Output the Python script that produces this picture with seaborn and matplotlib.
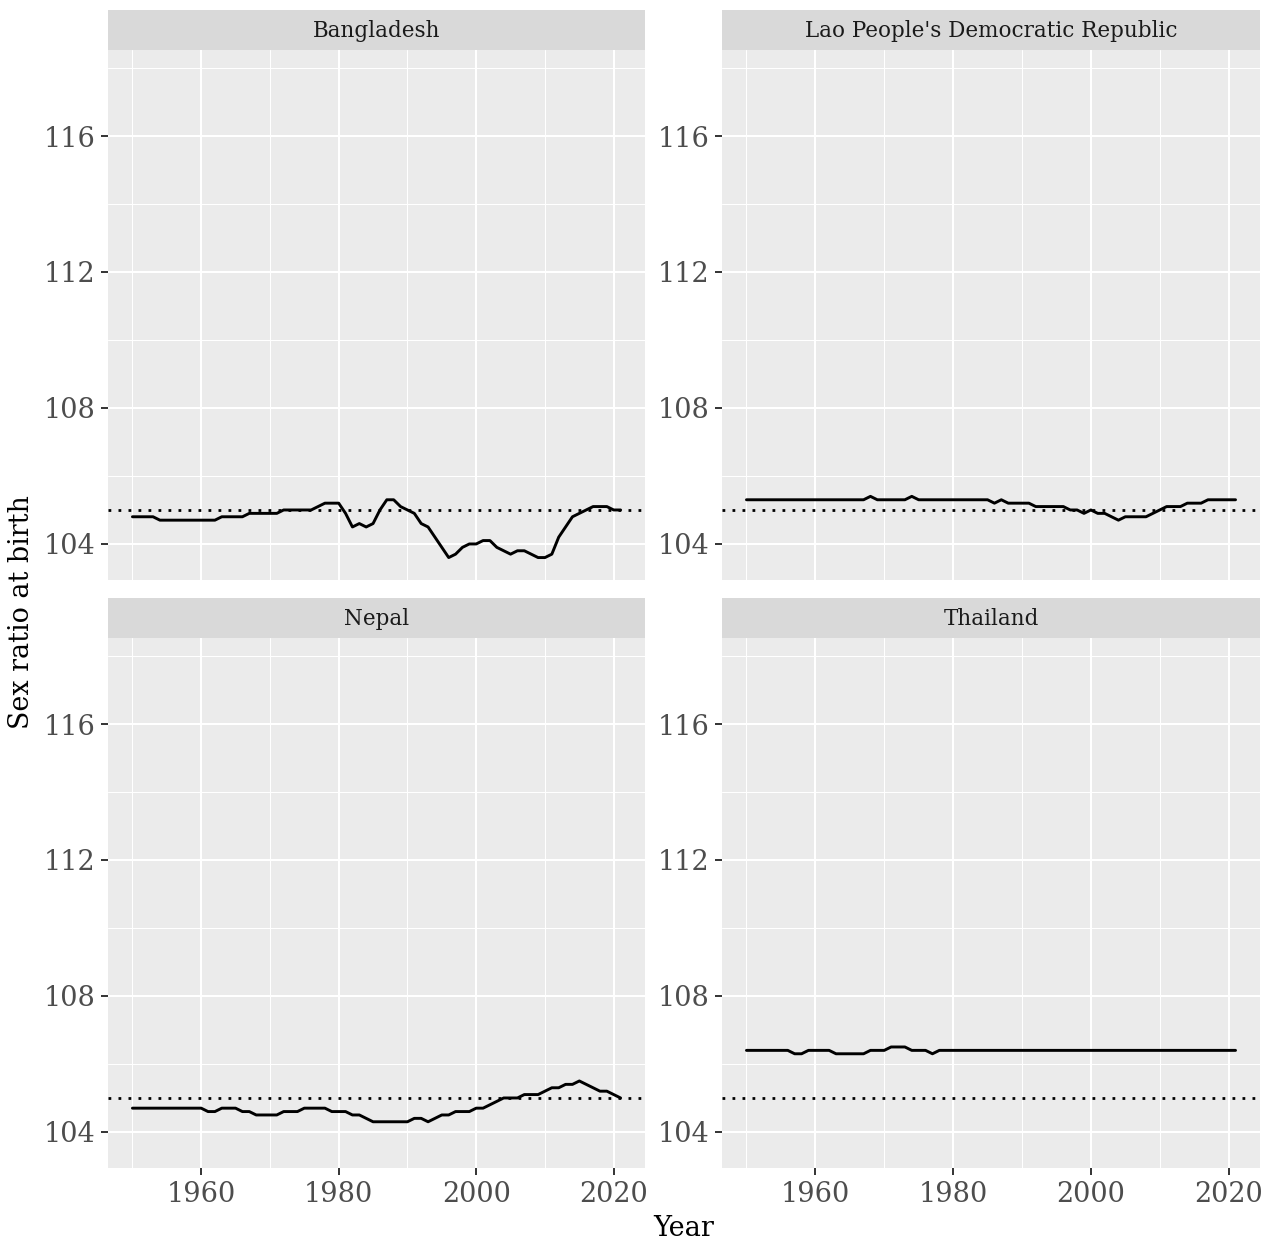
import numpy as np
import pandas as pd
import matplotlib
matplotlib.use("Agg")
import matplotlib.pyplot as plt
import seaborn as sns
from matplotlib.ticker import FixedLocator

# ---------------- data ----------------
years = list(range(1950, 2022))

countries = ["Bangladesh", "Lao People's Democratic Republic", "Nepal", "Thailand"]

bangladesh = ([104.8] * 4 + [104.7] * 9 + [104.8] * 4 + [104.9] * 5 + [105.0] * 5 +
              [105.1] + [105.2] * 3 +
              [104.9, 104.5, 104.6, 104.5, 104.6, 105.0, 105.3, 105.3, 105.1, 105.0,
               104.9, 104.6, 104.5, 104.2, 103.9, 103.6, 103.7, 103.9, 104.0, 104.0,
               104.1, 104.1, 103.9, 103.8, 103.7, 103.8, 103.8, 103.7, 103.6, 103.6,
               103.7, 104.2, 104.5, 104.8, 104.9, 105.0, 105.1, 105.1, 105.1, 105.0,
               105.0])

lao = ([105.3] * 18 + [105.4] + [105.3] * 5 + [105.4] + [105.3] * 11 +
       [105.2, 105.3] + [105.2] * 4 + [105.1] * 5 +
       [105.0, 105.0, 104.9, 105.0, 104.9, 104.9, 104.8, 104.7] +
       [104.8] * 4 + [104.9, 105.0] + [105.1] * 3 + [105.2] * 3 + [105.3] * 5)

nepal = ([104.7] * 11 + [104.6] * 2 + [104.7] * 3 + [104.6] * 2 + [104.5] * 4 +
         [104.6] * 3 + [104.7] * 4 + [104.6] * 3 + [104.5] * 2 + [104.4] +
         [104.3] * 6 + [104.4] * 2 + [104.3, 104.4] + [104.5] * 2 + [104.6] * 3 +
         [104.7] * 2 + [104.8, 104.9] + [105.0] * 3 + [105.1] * 3 + [105.2] +
         [105.3] * 2 + [105.4] * 2 + [105.5, 105.4, 105.3, 105.2, 105.2, 105.1, 105.0])

thailand = ([106.4] * 7 + [106.3] * 2 + [106.4] * 4 + [106.3] * 5 + [106.4] * 3 +
            [106.5] * 3 + [106.4] * 3 + [106.3] + [106.4] * 44)

series = [bangladesh, lao, nepal, thailand]
reference_ratio = 105

y_major = [104, 108, 112, 116]
y_minor = [106, 110, 114, 118]
x_major = [1960, 1980, 2000, 2020]
x_minor = [1950, 1970, 1990, 2010]

df = pd.concat([pd.DataFrame({"Year": years, "ratio": vals, "country": c})
                for c, vals in zip(countries, series)], ignore_index=True)

# ---------------- figure ----------------
sns.set_style("white")
plt.rcParams["font.family"] = ["DejaVu Serif"]

W, H = 1273, 1243
fig = plt.figure(figsize=(W / 100, H / 100), dpi=100)


def box(x0, y0, w, h):
    return [x0 / W, 1 - (y0 + h) / H, w / W, h / H]


col_left = [108, 722]
col_w = [537, 538]
row_top = [50, 638]
panel_h = 530
strip_h = 40

for i, c in enumerate(countries):
    r, k = divmod(i, 2)
    ax = fig.add_axes(box(col_left[k], row_top[r], col_w[k], panel_h))
    sax = fig.add_axes(box(col_left[k], row_top[r] - strip_h, col_w[k], strip_h))
    sax.set_facecolor("#D9D9D9")
    sax.set_xticks([]); sax.set_yticks([])
    for s in sax.spines.values():
        s.set_visible(False)
    sax.text(0.5, 0.47, c, ha="center", va="center", fontsize=15.5, color="#1A1A1A",
             transform=sax.transAxes)

    ax.set_facecolor("#EBEBEB")
    for s in ax.spines.values():
        s.set_visible(False)
    ax.axhline(reference_ratio, color="black", lw=2.0, linestyle=(0, (1, 2.6)),
               dash_capstyle="butt", zorder=2)
    sns.lineplot(data=df[df.country == c], x="Year", y="ratio", ax=ax,
                 color="black", lw=2.1, estimator=None, zorder=3)
    ax.set_xlim(1946.45, 2024.55)
    ax.set_ylim(102.94, 118.53)
    ax.yaxis.set_major_locator(FixedLocator(y_major))
    ax.yaxis.set_minor_locator(FixedLocator(y_minor))
    ax.xaxis.set_major_locator(FixedLocator(x_major))
    ax.xaxis.set_minor_locator(FixedLocator(x_minor))
    ax.grid(which="major", color="white", lw=1.5)
    ax.grid(which="minor", color="white", lw=0.75)
    ax.set_axisbelow(True)
    ax.set_xlabel(""); ax.set_ylabel("")
    ax.tick_params(which="major", length=5, width=1.4, color="#333333",
                   labelsize=19.5, labelcolor="#4D4D4D", pad=4,
                   left=True, bottom=True)
    ax.tick_params(which="minor", length=0)
    if r == 0:
        ax.tick_params(axis="x", which="both", bottom=False, labelbottom=False)
    ax.legend_ = None

fig.text(684 / W, 1 - 1236 / H, "Year", ha="center", va="baseline", fontsize=19.5,
         color="black")
fig.text(22 / W, 1 - 612 / H, "Sex ratio at birth", ha="center", va="center",
         rotation=90, fontsize=19.4, color="black")

fig.savefig("out.png", dpi=100, facecolor="white")
